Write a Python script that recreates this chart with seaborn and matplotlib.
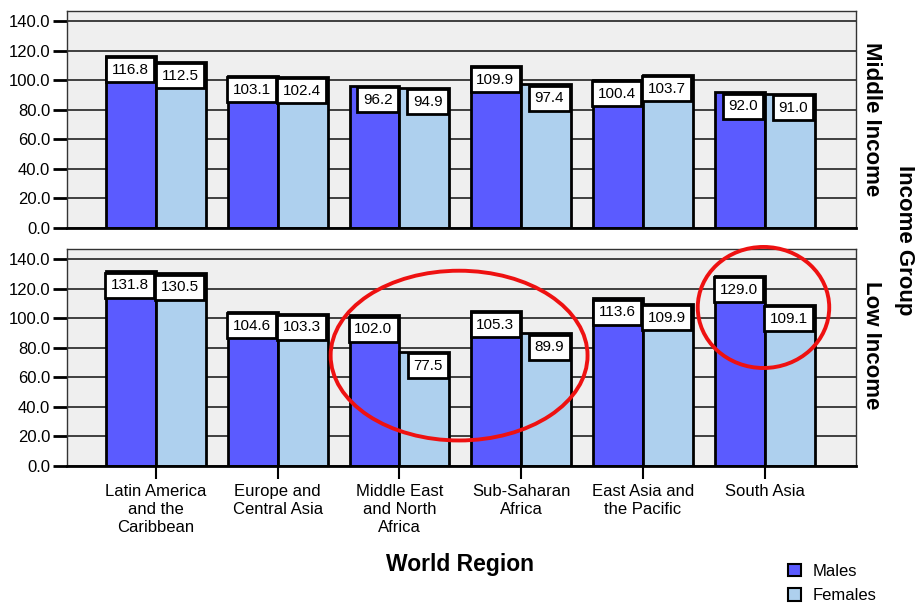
import numpy as np
import pandas as pd
import matplotlib
matplotlib.use("Agg")
import matplotlib.pyplot as plt
from matplotlib.patches import Ellipse, Patch
import seaborn as sns

regions = ["Latin America\nand the\nCaribbean", "Europe and\nCentral Asia",
           "Middle East\nand North\nAfrica", "Sub-Saharan\nAfrica",
           "East Asia and\nthe Pacific", "South Asia"]
sexes = ["Males", "Females"]
middle_males = [116.8, 103.1, 96.2, 109.9, 100.4, 92.0]
middle_females = [112.5, 102.4, 94.9, 97.4, 103.7, 91.0]
low_males = [131.8, 104.6, 102.0, 105.3, 113.6, 129.0]
low_females = [130.5, 103.3, 77.5, 89.9, 109.9, 109.1]
y_ticks = [0, 20, 40, 60, 80, 100, 120, 140]

male_color = "#5b5bff"
female_color = "#aed0ee"

sns.set_style("white")
plt.rcParams["font.family"] = ["Liberation Sans", "DejaVu Sans"]
plt.rcParams["text.color"] = "black"
plt.rcParams["xtick.color"] = "black"
plt.rcParams["ytick.color"] = "black"
plt.rcParams["axes.labelcolor"] = "black"


def make_frame(males, females):
    return pd.DataFrame({
        "region": regions * 2,
        "sex": ["Males"] * len(regions) + ["Females"] * len(regions),
        "value": males + females,
    })


fig = plt.figure(figsize=(9.17, 6.09), dpi=100)
ax_mid = fig.add_axes([0.0731, 0.6256, 0.8604, 0.3563])
ax_low = fig.add_axes([0.0731, 0.2348, 0.8604, 0.3563])

panels = [(ax_mid, make_frame(middle_males, middle_females)),
          (ax_low, make_frame(low_males, low_females))]

for ax, df in panels:
    ax.set_facecolor("#efefef")
    ax.set_axisbelow(True)
    ax.yaxis.grid(True, color="#222222", linewidth=1.2)
    sns.barplot(data=df, x="region", y="value", hue="sex", hue_order=sexes,
                palette=[male_color, female_color], width=0.82,
                edgecolor="black", linewidth=2, saturation=1,
                legend=False, ax=ax)
    ax.set_xlim(-0.73, 5.75)
    ax.set_ylim(0, 147)
    ax.set_yticks(y_ticks)
    ax.set_yticklabels([f"{t:.1f}" for t in y_ticks], fontsize=12)
    ax.tick_params(axis="y", length=10, width=2, color="black", pad=2, left=True)
    ax.set_xlabel("")
    ax.set_ylabel("")
    for side in ["top", "left", "right"]:
        ax.spines[side].set_color("#333333")
        ax.spines[side].set_linewidth(1)
    ax.spines["bottom"].set_color("black")
    ax.spines["bottom"].set_linewidth(2)
    # value boxes hang from the top right corner of each bar
    for cont in ax.containers:
        for bar in cont:
            h = bar.get_height()
            ax.annotate(f"{h:.1f}", xy=(bar.get_x() + bar.get_width(), h),
                        xytext=(-5, -5), textcoords="offset points",
                        ha="right", va="top", fontsize=11,
                        bbox=dict(boxstyle="square,pad=0.36", fc="white",
                                  ec="black", lw=2))

ax_mid.tick_params(axis="x", bottom=False, labelbottom=False)
ax_low.tick_params(axis="x", bottom=True, length=9, width=1.5, color="black",
                   labelsize=12, pad=4)
for lab in ax_low.get_xticklabels():
    lab.set_horizontalalignment("center")
    lab.set_linespacing(1.25)

# red highlight ellipses
ax_low.add_patch(Ellipse((2.49, 74.8), 2.11, 115, fill=False, ec="#ee1111",
                         lw=2.8, clip_on=False, zorder=10))
ax_low.add_patch(Ellipse((4.99, 107.4), 1.08, 82, fill=False, ec="#ee1111",
                         lw=2.8, clip_on=False, zorder=10))

fig.text(460 / 917, 1 - 565 / 609, "World Region", ha="center", va="center",
         fontsize=16.5, fontweight="bold")
fig.text(872 / 917, 1 - 119 / 609, "Middle Income", ha="center", va="center",
         rotation=-90, fontsize=16, fontweight="bold")
fig.text(872 / 917, 1 - 345 / 609, "Low Income", ha="center", va="center",
         rotation=-90, fontsize=16, fontweight="bold")
fig.text(905 / 917, 1 - 240 / 609, "Income Group", ha="center", va="center",
         rotation=-90, fontsize=16, fontweight="bold")

handles = [Patch(fc=male_color, ec="black", lw=1.5),
           Patch(fc=female_color, ec="black", lw=1.5)]
fig.legend(handles, sexes, loc="lower left", bbox_to_anchor=(773 / 917, -0.015),
           frameon=False, fontsize=12, handlelength=0.8, handleheight=0.8,
           handletextpad=0.7, labelspacing=0.55)

fig.savefig("out.png", dpi=100)
